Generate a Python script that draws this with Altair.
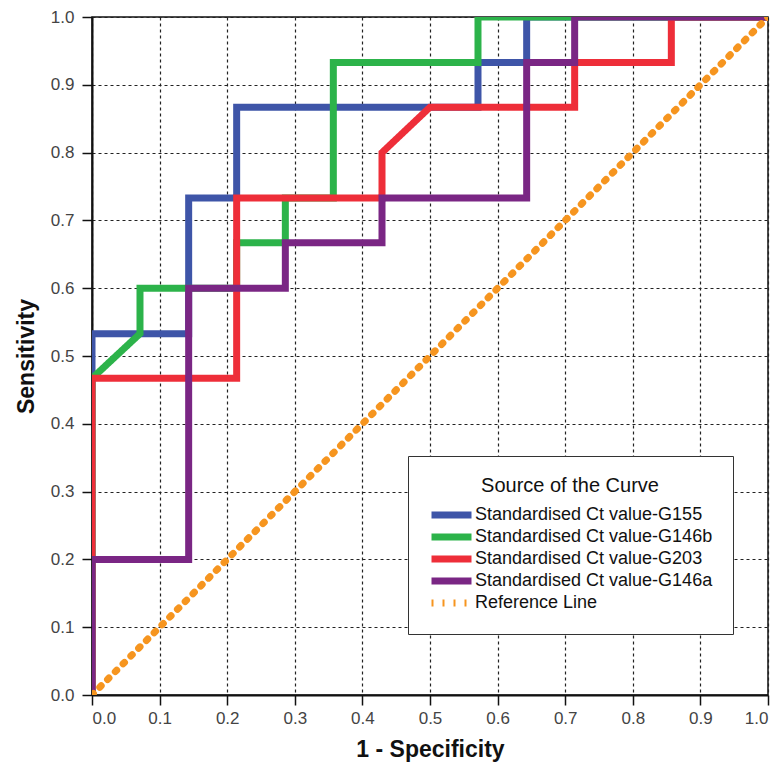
import altair as alt
import pandas as pd

series = [
    "Standardised Ct value-G155",
    "Standardised Ct value-G146b",
    "Standardised Ct value-G203",
    "Standardised Ct value-G146a",
    "Reference Line",
]
colors = ["#3E55A8", "#2CB34A", "#EE2E39", "#7A2684", "#F6951F"]

g155_x = [0.0, 0.0, 0.143, 0.143, 0.214, 0.214, 0.571, 0.571, 0.643, 0.643, 1.0]
g155_y = [0.0, 0.533, 0.533, 0.733, 0.733, 0.867, 0.867, 0.933, 0.933, 1.0, 1.0]

g146b_x = [0.0, 0.0, 0.071, 0.071, 0.214, 0.214, 0.286, 0.286, 0.357, 0.357, 0.571, 0.571, 1.0]
g146b_y = [0.0, 0.467, 0.533, 0.6, 0.6, 0.667, 0.667, 0.733, 0.733, 0.933, 0.933, 1.0, 1.0]

g203_x = [0.0, 0.0, 0.214, 0.214, 0.429, 0.429, 0.5, 0.714, 0.714, 0.857, 0.857, 1.0]
g203_y = [0.0, 0.467, 0.467, 0.733, 0.733, 0.8, 0.867, 0.867, 0.933, 0.933, 1.0, 1.0]

g146a_x = [0.0, 0.0, 0.143, 0.143, 0.286, 0.286, 0.429, 0.429, 0.643, 0.643, 0.714, 0.714, 1.0]
g146a_y = [0.0, 0.2, 0.2, 0.6, 0.6, 0.667, 0.667, 0.733, 0.733, 0.933, 0.933, 1.0, 1.0]

ref_x = [0.0, 1.0]
ref_y = [0.0, 1.0]

tick_values = [0.0, 0.1, 0.2, 0.3, 0.4, 0.5, 0.6, 0.7, 0.8, 0.9, 1.0]

rows = []
for name, xs, ys in zip(series,
                        [g155_x, g146b_x, g203_x, g146a_x, ref_x],
                        [g155_y, g146b_y, g203_y, g146a_y, ref_y]):
    for i, (xv, yv) in enumerate(zip(xs, ys)):
        rows.append({"series": name, "fpr": xv, "tpr": yv, "idx": i})
df = pd.DataFrame(rows)

legend = alt.Legend(
    title="Source of the Curve",
    orient="none",
    legendX=316,
    legendY=439,
    direction="vertical",
    symbolType="stroke",
    symbolSize=1600,
    symbolStrokeWidth=7,
    clipHeight=22,
    labelLimit=0,
    labelFont="Liberation Sans",
    labelFontSize=18,
    labelColor="#111111",
    labelOffset=0,
    titleFont="Liberation Sans",
    titleFontSize=20,
    titleFontWeight="normal",
    titleColor="#111111",
    titleAnchor="middle",
    titlePadding=8,
    rowPadding=0,
    padding=20,
    strokeColor="#333333",
    fillColor="white",
)

color_scale = alt.Scale(domain=series, range=colors)
dash_scale = alt.Scale(domain=series, range=[[1, 0], [1, 0], [1, 0], [1, 0], [2, 9]])

x_enc = alt.X("fpr:Q", scale=alt.Scale(domain=[0, 1], nice=False),
              axis=alt.Axis(values=tick_values, format=".1f", title="1 - Specificity"))
y_enc = alt.Y("tpr:Q", scale=alt.Scale(domain=[0, 1], nice=False),
              axis=alt.Axis(values=tick_values, format=".1f", title="Sensitivity"))

def layer(name, **mark_kw):
    return alt.Chart(df).transform_filter(alt.datum.series == name).mark_line(
        strokeWidth=7, clip=True, **mark_kw
    ).encode(
        x=x_enc,
        y=y_enc,
        order="idx:Q",
        color=alt.Color("series:N", scale=color_scale, legend=legend),
        strokeDash=alt.StrokeDash("series:N", scale=dash_scale, legend=legend),
    )

layers = [layer(s, strokeJoin="miter", strokeCap="butt") for s in series[:4]]
layers.append(layer(series[4], strokeCap="round"))

chart = alt.layer(*layers).properties(
    width=676,
    height=678,
    autosize=alt.AutoSizeParams(type="none"),
    padding={"left": 92, "top": 17, "right": 12, "bottom": 74},
).configure_view(
    stroke="#111111", strokeWidth=1.5
).configure_axis(
    labelFont="Liberation Sans",
    labelFontSize=17,
    labelColor="#444444",
    titleFont="Liberation Sans",
    titleFontSize=23,
    titleFontWeight="bold",
    titleColor="#111111",
    tickSize=10,
    tickColor="#111111",
    tickWidth=1.5,
    domainColor="#111111",
    domainWidth=2,
    grid=True,
    gridColor="#222222",
    gridDash=[3, 3],
    gridWidth=1.2,
    gridOpacity=1,
).configure_axisX(
    labelPadding=5, titlePadding=12
).configure_axisY(
    labelPadding=8, titlePadding=12
)

chart.save("out.html", embed_options={"renderer": "svg", "actions": False})
